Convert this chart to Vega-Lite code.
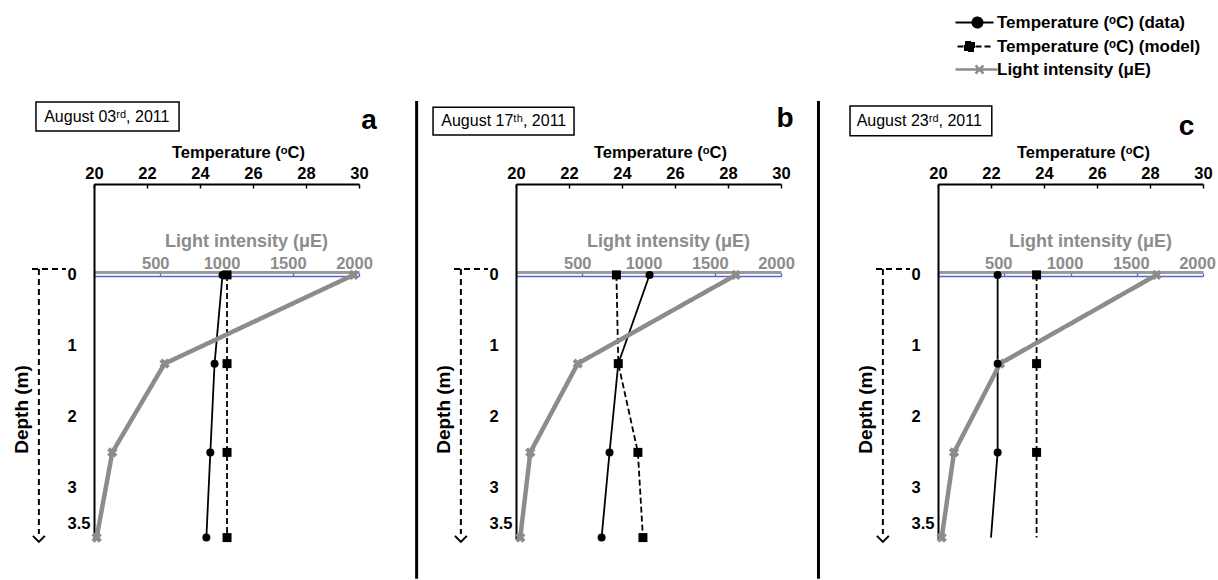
{
  "$schema": "https://vega.github.io/schema/vega-lite/v6.json",
  "background": "white",
  "padding": {"left": 12, "top": 14, "right": 5, "bottom": 0},
  "bounds": "flush",
  "spacing": 157,
  "datasets": {
    "profiles": [
      {"panel": "a", "series": "data", "depth": 0, "value": 24.85},
      {"panel": "a", "series": "data", "depth": 1.25, "value": 24.55},
      {"panel": "a", "series": "data", "depth": 2.5, "value": 24.39},
      {"panel": "a", "series": "data", "depth": 3.7, "value": 24.24},
      {"panel": "a", "series": "model", "depth": 0, "value": 25.02},
      {"panel": "a", "series": "model", "depth": 1.25, "value": 25.02},
      {"panel": "a", "series": "model", "depth": 2.5, "value": 25.02},
      {"panel": "a", "series": "model", "depth": 3.7, "value": 25.02},
      {"panel": "a", "series": "light", "depth": 0, "value": 1960},
      {"panel": "a", "series": "light", "depth": 1.25, "value": 533},
      {"panel": "a", "series": "light", "depth": 2.5, "value": 138},
      {"panel": "a", "series": "light", "depth": 3.7, "value": 20},
      {"panel": "b", "series": "data", "depth": 0, "value": 25.04},
      {"panel": "b", "series": "data", "depth": 1.25, "value": 23.86},
      {"panel": "b", "series": "data", "depth": 2.5, "value": 23.53},
      {"panel": "b", "series": "data", "depth": 3.7, "value": 23.23},
      {"panel": "b", "series": "model", "depth": 0, "value": 23.79},
      {"panel": "b", "series": "model", "depth": 1.25, "value": 23.86},
      {"panel": "b", "series": "model", "depth": 2.5, "value": 24.6},
      {"panel": "b", "series": "model", "depth": 3.7, "value": 24.79},
      {"panel": "b", "series": "light", "depth": 0, "value": 1660},
      {"panel": "b", "series": "light", "depth": 1.25, "value": 466},
      {"panel": "b", "series": "light", "depth": 2.5, "value": 108},
      {"panel": "b", "series": "light", "depth": 3.7, "value": 32},
      {"panel": "c", "series": "data", "depth": 0, "value": 22.25},
      {"panel": "c", "series": "data", "depth": 1.25, "value": 22.25},
      {"panel": "c", "series": "data", "depth": 2.5, "value": 22.25},
      {"panel": "c", "series": "data", "depth": 3.7, "value": 22.0},
      {"panel": "c", "series": "model", "depth": 0, "value": 23.72},
      {"panel": "c", "series": "model", "depth": 1.25, "value": 23.72},
      {"panel": "c", "series": "model", "depth": 2.5, "value": 23.72},
      {"panel": "c", "series": "model", "depth": 3.7, "value": 23.72},
      {"panel": "c", "series": "light", "depth": 0, "value": 1650},
      {"panel": "c", "series": "light", "depth": 1.25, "value": 468},
      {"panel": "c", "series": "light", "depth": 2.5, "value": 121},
      {"panel": "c", "series": "light", "depth": 3.7, "value": 28}
    ]
  },
  "data": {"name": "profiles"},
  "hconcat": [
    {
      "width": 265, "height": 355,
      "transform": [{"filter": "datum.panel === 'a'"}],
      "layer": [
        {
          "layer": [
            {
              "transform": [{"filter": "datum.series !== 'light'"}],
              "mark": {"type": "line", "strokeWidth": 1.8},
              "encoding": {
                "x": {"field": "value", "type": "quantitative", "scale": {"domain": [20, 30], "nice": false},
                  "axis": {"orient": "top", "values": [20, 22, 24, 26, 28, 30], "title": "Temperature (ᵒC)", "titleX": 144, "domainWidth": 2, "tickSize": -4, "tickWidth": 1.5, "labelPadding": 7, "titlePadding": 5}},
                "y": {"field": "depth", "type": "quantitative", "scale": {"domain": [-1.28, 3.72], "reverse": true, "nice": false, "zero": false},
                  "axis": {"orient": "left", "values": [0, 1, 2, 3, 3.5], "format": "~g", "title": "Depth (m)", "ticks": false, "domainWidth": 2, "labelAlign": "left", "labelBaseline": "middle", "labelPadding": 27, "titleFontSize": 19, "titleAngle": -90, "titleX": -73, "titleY": 225, "titleBaseline": "middle", "titleAlign": "center"}},
                "order": {"field": "depth"},
                "color": {"field": "series", "type": "nominal", "scale": {"domain": ["data", "model", "light"], "range": ["black", "black", "#8c8c8c"]},
                  "legend": {
                    "orient": "none", "legendX": 872, "legendY": -170, "title": null,
                    "labelExpr": "datum.value === 'data' ? 'Temperature (ᵒC) (data)' : datum.value === 'model' ? 'Temperature (ᵒC) (model)' : 'Light intensity (μE)'",
                    "encode": {"symbols": {"update": {
                      "shape": {"signal": "datum.value === 'data' ? 'M-3.8,0H3.8M1.6,0A1,1,0,1,1,-0.4,0A1,1,0,1,1,1.6,0Z' : datum.value === 'model' ? 'M-3.4,0H3.6M-1.9,-0.9H-0.1V0.9H-1.9Z' : 'M-3.8,0H4.6M0.2,-0.8L1.8,0.8M0.2,0.8L1.8,-0.8'"},
                      "fill": {"signal": "datum.value === 'light' ? 'transparent' : 'black'"},
                      "stroke": {"signal": "datum.value === 'light' ? '#a6a6a6' : 'black'"},
                      "strokeWidth": {"signal": "datum.value === 'light' ? 2.5 : 2"},
                      "size": {"value": 100}
                    }}}
                  }},
                "strokeDash": {"field": "series", "type": "nominal", "scale": {"domain": ["data", "model", "light"], "range": [[1, 0], [6, 3], [1, 0]]}}
              }
            },
            {
              "data": {"values": [{}]},
              "mark": {"type": "rule", "strokeDash": [6, 4], "strokeWidth": 2, "color": "black"},
              "encoding": {
                "x": {"datum": 17.92, "type": "quantitative", "scale": {"domain": [20, 30], "nice": false}},
                "y": {"datum": -0.083, "type": "quantitative", "scale": {"domain": [-1.28, 3.72], "reverse": true, "nice": false, "zero": false}},
                "y2": {"datum": 3.65}
              }
            },
            {
              "data": {"values": [{}]},
              "mark": {"type": "rule", "strokeDash": [6, 4], "strokeWidth": 2, "color": "black"},
              "encoding": {
                "x": {"datum": 17.66, "type": "quantitative", "scale": {"domain": [20, 30], "nice": false}},
                "x2": {"datum": 18.94},
                "y": {"datum": -0.083, "type": "quantitative", "scale": {"domain": [-1.28, 3.72], "reverse": true, "nice": false, "zero": false}}
              }
            },
            {
              "data": {"values": [{}]},
              "mark": {"type": "point", "shape": "M-1,-1L0,0L1,-1", "filled": false, "stroke": "black", "strokeWidth": 2, "size": 144, "opacity": 1},
              "encoding": {
                "x": {"datum": 17.92, "type": "quantitative", "scale": {"domain": [20, 30], "nice": false}},
                "y": {"datum": 3.76, "type": "quantitative", "scale": {"domain": [-1.28, 3.72], "reverse": true, "nice": false, "zero": false}}
              }
            },
            {
              "data": {"values": [{}]},
              "mark": {"type": "rect", "fill": "white", "stroke": "black", "strokeWidth": 1.5},
              "encoding": {
                "x": {"datum": 17.81, "type": "quantitative", "scale": {"domain": [20, 30], "nice": false}},
                "x2": {"datum": 23.21},
                "y": {"datum": -2.435, "type": "quantitative", "scale": {"domain": [-1.28, 3.72], "reverse": true, "nice": false, "zero": false}},
                "y2": {"datum": -2.026}
              }
            },
            {
              "data": {"values": [{}]},
              "mark": {"type": "text", "align": "left", "baseline": "middle", "font": "Liberation Sans", "fontSize": 16, "color": "black"},
              "encoding": {
                "x": {"datum": 18.12, "type": "quantitative", "scale": {"domain": [20, 30], "nice": false}},
                "y": {"datum": -2.23, "type": "quantitative", "scale": {"domain": [-1.28, 3.72], "reverse": true, "nice": false, "zero": false}},
                "text": {"value": "August 03ʳᵈ, 2011"}
              }
            },
            {
              "data": {"values": [{}]},
              "mark": {"type": "text", "align": "center", "baseline": "middle", "font": "Liberation Sans", "fontSize": 28, "fontWeight": "bold", "color": "black"},
              "encoding": {
                "x": {"datum": 30.38, "type": "quantitative", "scale": {"domain": [20, 30], "nice": false}},
                "y": {"datum": -2.17, "type": "quantitative", "scale": {"domain": [-1.28, 3.72], "reverse": true, "nice": false, "zero": false}},
                "text": {"value": "a"}
              }
            }
          ]
        },
        {
          "transform": [{"filter": "datum.series === 'light'"}],
          "mark": {"type": "line", "strokeWidth": 4.5},
          "encoding": {
            "x": {"field": "value", "type": "quantitative", "scale": {"domain": [0, 2000], "nice": false},
              "axis": {"orient": "top", "offset": -88, "values": [500, 1000, 1500, 2000], "format": "d", "title": "Light intensity (μE)", "titleFontSize": 18, "titleX": 152, "titleColor": "#8c8c8c", "labelColor": "#8c8c8c", "domainColor": "#9a9a9a", "domainWidth": 3, "ticks": false, "labelPadding": 1, "labelOffset": -5, "titlePadding": 5}},
            "y": {"field": "depth", "type": "quantitative", "scale": {"domain": [-1.28, 3.72], "reverse": true, "nice": false, "zero": false}},
            "order": {"field": "depth"},
            "color": {"field": "series", "type": "nominal", "scale": {"domain": ["data", "model", "light"], "range": ["black", "black", "#8c8c8c"]}},
            "strokeDash": {"field": "series", "type": "nominal", "scale": {"domain": ["data", "model", "light"], "range": [[1, 0], [6, 3], [1, 0]]}}
          }
        },
        {
          "transform": [{"filter": "datum.series === 'light'"}],
          "mark": {"type": "point", "shape": "cross", "angle": 45, "filled": true, "size": 110, "color": "#8c8c8c", "opacity": 1},
          "encoding": {
            "x": {"field": "value", "type": "quantitative", "scale": {"domain": [0, 2000], "nice": false},
              "axis": {"orient": "top", "offset": -92, "values": [0, 500, 1000, 1500, 2000], "labels": false, "title": null, "domainColor": "#5566dd", "domainWidth": 1.3, "tickColor": "#5566dd", "tickSize": 3, "tickWidth": 1.3}},
            "y": {"field": "depth", "type": "quantitative", "scale": {"domain": [-1.28, 3.72], "reverse": true, "nice": false, "zero": false}}
          }
        },
        {
          "transform": [{"filter": "datum.series !== 'light'"}],
          "mark": {"type": "point", "filled": true, "opacity": 1, "color": "black"},
          "encoding": {
            "x": {"field": "value", "type": "quantitative", "scale": {"domain": [20, 30], "nice": false}, "axis": null},
            "y": {"field": "depth", "type": "quantitative", "scale": {"domain": [-1.28, 3.72], "reverse": true, "nice": false, "zero": false}},
            "shape": {"field": "series", "type": "nominal", "scale": {"domain": ["data", "model"], "range": ["circle", "square"]}, "legend": null},
            "size": {"field": "series", "type": "nominal", "scale": {"domain": ["data", "model"], "range": [64, 81]}, "legend": null}
          }
        }
      ],
      "resolve": {"scale": {"x": "independent"}}
    },
    {
      "width": 265, "height": 355,
      "transform": [{"filter": "datum.panel === 'b'"}],
      "layer": [
        {
          "layer": [
            {
              "transform": [{"filter": "datum.series !== 'light'"}],
              "mark": {"type": "line", "strokeWidth": 1.8},
              "encoding": {
                "x": {"field": "value", "type": "quantitative", "scale": {"domain": [20, 30], "nice": false},
                  "axis": {"orient": "top", "values": [20, 22, 24, 26, 28, 30], "title": "Temperature (ᵒC)", "titleX": 144, "domainWidth": 2, "tickSize": -4, "tickWidth": 1.5, "labelPadding": 7, "titlePadding": 5}},
                "y": {"field": "depth", "type": "quantitative", "scale": {"domain": [-1.28, 3.72], "reverse": true, "nice": false, "zero": false},
                  "axis": {"orient": "left", "values": [0, 1, 2, 3, 3.5], "format": "~g", "title": "Depth (m)", "ticks": false, "domainWidth": 2, "labelAlign": "left", "labelBaseline": "middle", "labelPadding": 27, "titleFontSize": 19, "titleAngle": -90, "titleX": -73, "titleY": 225, "titleBaseline": "middle", "titleAlign": "center"}},
                "order": {"field": "depth"},
                "color": {"field": "series", "type": "nominal", "scale": {"domain": ["data", "model", "light"], "range": ["black", "black", "#8c8c8c"]}},
                "strokeDash": {"field": "series", "type": "nominal", "scale": {"domain": ["data", "model", "light"], "range": [[1, 0], [6, 3], [1, 0]]}}
              }
            },
            {
              "data": {"values": [{}]},
              "mark": {"type": "rule", "strokeWidth": 3, "color": "black"},
              "encoding": {
                "x": {"datum": 16.25, "type": "quantitative", "scale": {"domain": [20, 30], "nice": false}},
                "y": {"datum": -2.45, "type": "quantitative", "scale": {"domain": [-1.28, 3.72], "reverse": true, "nice": false, "zero": false}},
                "y2": {"datum": 4.28}
              }
            },
            {
              "data": {"values": [{}]},
              "mark": {"type": "rule", "strokeDash": [6, 4], "strokeWidth": 2, "color": "black"},
              "encoding": {
                "x": {"datum": 17.92, "type": "quantitative", "scale": {"domain": [20, 30], "nice": false}},
                "y": {"datum": -0.083, "type": "quantitative", "scale": {"domain": [-1.28, 3.72], "reverse": true, "nice": false, "zero": false}},
                "y2": {"datum": 3.65}
              }
            },
            {
              "data": {"values": [{}]},
              "mark": {"type": "rule", "strokeDash": [6, 4], "strokeWidth": 2, "color": "black"},
              "encoding": {
                "x": {"datum": 17.66, "type": "quantitative", "scale": {"domain": [20, 30], "nice": false}},
                "x2": {"datum": 18.94},
                "y": {"datum": -0.083, "type": "quantitative", "scale": {"domain": [-1.28, 3.72], "reverse": true, "nice": false, "zero": false}}
              }
            },
            {
              "data": {"values": [{}]},
              "mark": {"type": "point", "shape": "M-1,-1L0,0L1,-1", "filled": false, "stroke": "black", "strokeWidth": 2, "size": 144, "opacity": 1},
              "encoding": {
                "x": {"datum": 17.92, "type": "quantitative", "scale": {"domain": [20, 30], "nice": false}},
                "y": {"datum": 3.76, "type": "quantitative", "scale": {"domain": [-1.28, 3.72], "reverse": true, "nice": false, "zero": false}}
              }
            },
            {
              "data": {"values": [{}]},
              "mark": {"type": "rect", "fill": "white", "stroke": "black", "strokeWidth": 1.5},
              "encoding": {
                "x": {"datum": 16.87, "type": "quantitative", "scale": {"domain": [20, 30], "nice": false}},
                "x2": {"datum": 22.19},
                "y": {"datum": -2.36, "type": "quantitative", "scale": {"domain": [-1.28, 3.72], "reverse": true, "nice": false, "zero": false}},
                "y2": {"datum": -1.97}
              }
            },
            {
              "data": {"values": [{}]},
              "mark": {"type": "text", "align": "left", "baseline": "middle", "font": "Liberation Sans", "fontSize": 16, "color": "black"},
              "encoding": {
                "x": {"datum": 17.18, "type": "quantitative", "scale": {"domain": [20, 30], "nice": false}},
                "y": {"datum": -2.17, "type": "quantitative", "scale": {"domain": [-1.28, 3.72], "reverse": true, "nice": false, "zero": false}},
                "text": {"value": "August 17ᵗʰ, 2011"}
              }
            },
            {
              "data": {"values": [{}]},
              "mark": {"type": "text", "align": "center", "baseline": "middle", "font": "Liberation Sans", "fontSize": 28, "fontWeight": "bold", "color": "black"},
              "encoding": {
                "x": {"datum": 30.15, "type": "quantitative", "scale": {"domain": [20, 30], "nice": false}},
                "y": {"datum": -2.2, "type": "quantitative", "scale": {"domain": [-1.28, 3.72], "reverse": true, "nice": false, "zero": false}},
                "text": {"value": "b"}
              }
            }
          ]
        },
        {
          "transform": [{"filter": "datum.series === 'light'"}],
          "mark": {"type": "line", "strokeWidth": 4.5},
          "encoding": {
            "x": {"field": "value", "type": "quantitative", "scale": {"domain": [0, 2000], "nice": false},
              "axis": {"orient": "top", "offset": -88, "values": [500, 1000, 1500, 2000], "format": "d", "title": "Light intensity (μE)", "titleFontSize": 18, "titleX": 152, "titleColor": "#8c8c8c", "labelColor": "#8c8c8c", "domainColor": "#9a9a9a", "domainWidth": 3, "ticks": false, "labelPadding": 1, "labelOffset": -5, "titlePadding": 5}},
            "y": {"field": "depth", "type": "quantitative", "scale": {"domain": [-1.28, 3.72], "reverse": true, "nice": false, "zero": false}},
            "order": {"field": "depth"},
            "color": {"field": "series", "type": "nominal", "scale": {"domain": ["data", "model", "light"], "range": ["black", "black", "#8c8c8c"]}},
            "strokeDash": {"field": "series", "type": "nominal", "scale": {"domain": ["data", "model", "light"], "range": [[1, 0], [6, 3], [1, 0]]}}
          }
        },
        {
          "transform": [{"filter": "datum.series === 'light'"}],
          "mark": {"type": "point", "shape": "cross", "angle": 45, "filled": true, "size": 110, "color": "#8c8c8c", "opacity": 1},
          "encoding": {
            "x": {"field": "value", "type": "quantitative", "scale": {"domain": [0, 2000], "nice": false},
              "axis": {"orient": "top", "offset": -92, "values": [0, 500, 1000, 1500, 2000], "labels": false, "title": null, "domainColor": "#5566dd", "domainWidth": 1.3, "tickColor": "#5566dd", "tickSize": 3, "tickWidth": 1.3}},
            "y": {"field": "depth", "type": "quantitative", "scale": {"domain": [-1.28, 3.72], "reverse": true, "nice": false, "zero": false}}
          }
        },
        {
          "transform": [{"filter": "datum.series !== 'light'"}],
          "mark": {"type": "point", "filled": true, "opacity": 1, "color": "black"},
          "encoding": {
            "x": {"field": "value", "type": "quantitative", "scale": {"domain": [20, 30], "nice": false}, "axis": null},
            "y": {"field": "depth", "type": "quantitative", "scale": {"domain": [-1.28, 3.72], "reverse": true, "nice": false, "zero": false}},
            "shape": {"field": "series", "type": "nominal", "scale": {"domain": ["data", "model"], "range": ["circle", "square"]}, "legend": null},
            "size": {"field": "series", "type": "nominal", "scale": {"domain": ["data", "model"], "range": [64, 81]}, "legend": null}
          }
        }
      ],
      "resolve": {"scale": {"x": "independent"}}
    },
    {
      "width": 265, "height": 355,
      "transform": [{"filter": "datum.panel === 'c'"}],
      "layer": [
        {
          "layer": [
            {
              "transform": [{"filter": "datum.series !== 'light'"}],
              "mark": {"type": "line", "strokeWidth": 1.8},
              "encoding": {
                "x": {"field": "value", "type": "quantitative", "scale": {"domain": [20, 30], "nice": false},
                  "axis": {"orient": "top", "values": [20, 22, 24, 26, 28, 30], "title": "Temperature (ᵒC)", "titleX": 145, "domainWidth": 2, "tickSize": -4, "tickWidth": 1.5, "labelPadding": 7, "titlePadding": 5}},
                "y": {"field": "depth", "type": "quantitative", "scale": {"domain": [-1.28, 3.72], "reverse": true, "nice": false, "zero": false},
                  "axis": {"orient": "left", "values": [0, 1, 2, 3, 3.5], "format": "~g", "title": "Depth (m)", "ticks": false, "domainWidth": 2, "labelAlign": "left", "labelBaseline": "middle", "labelPadding": 27, "titleFontSize": 19, "titleAngle": -90, "titleX": -73, "titleY": 225, "titleBaseline": "middle", "titleAlign": "center"}},
                "order": {"field": "depth"},
                "color": {"field": "series", "type": "nominal", "scale": {"domain": ["data", "model", "light"], "range": ["black", "black", "#8c8c8c"]}},
                "strokeDash": {"field": "series", "type": "nominal", "scale": {"domain": ["data", "model", "light"], "range": [[1, 0], [6, 3], [1, 0]]}}
              }
            },
            {
              "data": {"values": [{}]},
              "mark": {"type": "rule", "strokeWidth": 3, "color": "black"},
              "encoding": {
                "x": {"datum": 15.49, "type": "quantitative", "scale": {"domain": [20, 30], "nice": false}},
                "y": {"datum": -2.45, "type": "quantitative", "scale": {"domain": [-1.28, 3.72], "reverse": true, "nice": false, "zero": false}},
                "y2": {"datum": 4.28}
              }
            },
            {
              "data": {"values": [{}]},
              "mark": {"type": "rule", "strokeDash": [6, 4], "strokeWidth": 2, "color": "black"},
              "encoding": {
                "x": {"datum": 17.92, "type": "quantitative", "scale": {"domain": [20, 30], "nice": false}},
                "y": {"datum": -0.083, "type": "quantitative", "scale": {"domain": [-1.28, 3.72], "reverse": true, "nice": false, "zero": false}},
                "y2": {"datum": 3.65}
              }
            },
            {
              "data": {"values": [{}]},
              "mark": {"type": "rule", "strokeDash": [6, 4], "strokeWidth": 2, "color": "black"},
              "encoding": {
                "x": {"datum": 17.66, "type": "quantitative", "scale": {"domain": [20, 30], "nice": false}},
                "x2": {"datum": 18.94},
                "y": {"datum": -0.083, "type": "quantitative", "scale": {"domain": [-1.28, 3.72], "reverse": true, "nice": false, "zero": false}}
              }
            },
            {
              "data": {"values": [{}]},
              "mark": {"type": "point", "shape": "M-1,-1L0,0L1,-1", "filled": false, "stroke": "black", "strokeWidth": 2, "size": 144, "opacity": 1},
              "encoding": {
                "x": {"datum": 17.92, "type": "quantitative", "scale": {"domain": [20, 30], "nice": false}},
                "y": {"datum": 3.76, "type": "quantitative", "scale": {"domain": [-1.28, 3.72], "reverse": true, "nice": false, "zero": false}}
              }
            },
            {
              "data": {"values": [{}]},
              "mark": {"type": "rect", "fill": "white", "stroke": "black", "strokeWidth": 1.5},
              "encoding": {
                "x": {"datum": 16.68, "type": "quantitative", "scale": {"domain": [20, 30], "nice": false}},
                "x2": {"datum": 22.03},
                "y": {"datum": -2.38, "type": "quantitative", "scale": {"domain": [-1.28, 3.72], "reverse": true, "nice": false, "zero": false}},
                "y2": {"datum": -1.96}
              }
            },
            {
              "data": {"values": [{}]},
              "mark": {"type": "text", "align": "left", "baseline": "middle", "font": "Liberation Sans", "fontSize": 16, "color": "black"},
              "encoding": {
                "x": {"datum": 16.93, "type": "quantitative", "scale": {"domain": [20, 30], "nice": false}},
                "y": {"datum": -2.17, "type": "quantitative", "scale": {"domain": [-1.28, 3.72], "reverse": true, "nice": false, "zero": false}},
                "text": {"value": "August 23ʳᵈ, 2011"}
              }
            },
            {
              "data": {"values": [{}]},
              "mark": {"type": "text", "align": "center", "baseline": "middle", "font": "Liberation Sans", "fontSize": 28, "fontWeight": "bold", "color": "black"},
              "encoding": {
                "x": {"datum": 29.38, "type": "quantitative", "scale": {"domain": [20, 30], "nice": false}},
                "y": {"datum": -2.08, "type": "quantitative", "scale": {"domain": [-1.28, 3.72], "reverse": true, "nice": false, "zero": false}},
                "text": {"value": "c"}
              }
            }
          ]
        },
        {
          "transform": [{"filter": "datum.series === 'light'"}],
          "mark": {"type": "line", "strokeWidth": 4.5},
          "encoding": {
            "x": {"field": "value", "type": "quantitative", "scale": {"domain": [0, 2000], "nice": false},
              "axis": {"orient": "top", "offset": -88, "values": [500, 1000, 1500, 2000], "format": "d", "title": "Light intensity (μE)", "titleFontSize": 18, "titleX": 152, "titleColor": "#8c8c8c", "labelColor": "#8c8c8c", "domainColor": "#9a9a9a", "domainWidth": 3, "ticks": false, "labelPadding": 1, "labelOffset": -6, "titlePadding": 5}},
            "y": {"field": "depth", "type": "quantitative", "scale": {"domain": [-1.28, 3.72], "reverse": true, "nice": false, "zero": false}},
            "order": {"field": "depth"},
            "color": {"field": "series", "type": "nominal", "scale": {"domain": ["data", "model", "light"], "range": ["black", "black", "#8c8c8c"]}},
            "strokeDash": {"field": "series", "type": "nominal", "scale": {"domain": ["data", "model", "light"], "range": [[1, 0], [6, 3], [1, 0]]}}
          }
        },
        {
          "transform": [{"filter": "datum.series === 'light'"}],
          "mark": {"type": "point", "shape": "cross", "angle": 45, "filled": true, "size": 110, "color": "#8c8c8c", "opacity": 1},
          "encoding": {
            "x": {"field": "value", "type": "quantitative", "scale": {"domain": [0, 2000], "nice": false},
              "axis": {"orient": "top", "offset": -92, "values": [0, 500, 1000, 1500, 2000], "labels": false, "title": null, "domainColor": "#5566dd", "domainWidth": 1.3, "tickColor": "#5566dd", "tickSize": 3, "tickWidth": 1.3}},
            "y": {"field": "depth", "type": "quantitative", "scale": {"domain": [-1.28, 3.72], "reverse": true, "nice": false, "zero": false}}
          }
        },
        {
          "transform": [{"filter": "datum.series !== 'light' && datum.depth < 3.6"}],
          "mark": {"type": "point", "filled": true, "opacity": 1, "color": "black"},
          "encoding": {
            "x": {"field": "value", "type": "quantitative", "scale": {"domain": [20, 30], "nice": false}, "axis": null},
            "y": {"field": "depth", "type": "quantitative", "scale": {"domain": [-1.28, 3.72], "reverse": true, "nice": false, "zero": false}},
            "shape": {"field": "series", "type": "nominal", "scale": {"domain": ["data", "model"], "range": ["circle", "square"]}, "legend": null},
            "size": {"field": "series", "type": "nominal", "scale": {"domain": ["data", "model"], "range": [64, 81]}, "legend": null}
          }
        }
      ],
      "resolve": {"scale": {"x": "independent"}}
    }
  ],
  "resolve": {"scale": {"color": "shared", "strokeDash": "shared", "shape": "shared", "size": "shared"}},
  "config": {
    "font": "Liberation Sans",
    "view": {"stroke": null},
    "axis": {
      "grid": false,
      "labelFont": "Liberation Sans", "labelFontWeight": "bold", "labelFontSize": 16.5, "labelColor": "black",
      "titleFont": "Liberation Sans", "titleFontWeight": "bold", "titleFontSize": 16.5, "titleColor": "black",
      "domainColor": "black", "tickColor": "black", "labelFlush": false, "labelOverlap": false
    },
    "legend": {
      "labelFont": "Liberation Sans", "labelFontSize": 17, "labelFontWeight": "bold", "labelColor": "black",
      "labelOffset": 14, "rowPadding": 5, "padding": 0, "symbolSize": 100, "labelLimit": 400
    }
  }
}
